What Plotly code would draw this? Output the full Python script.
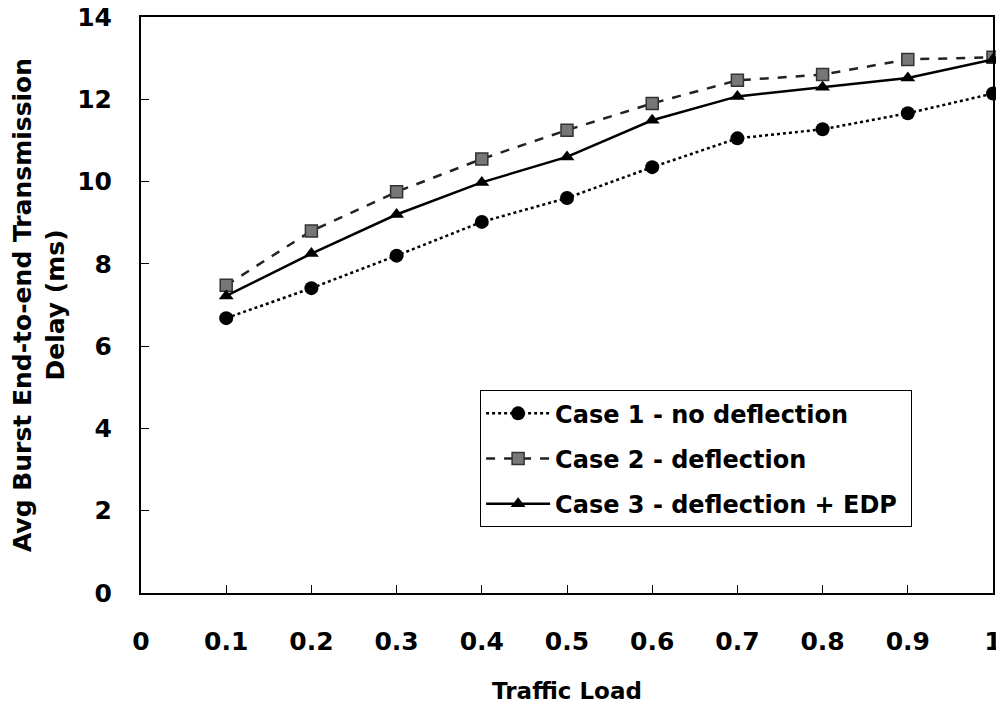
import plotly.graph_objects as go

traffic_load = [0.1, 0.2, 0.3, 0.4, 0.5, 0.6, 0.7, 0.8, 0.9, 1.0]
case1_no_deflection = [6.68, 7.41, 8.2, 9.02, 9.6, 10.35, 11.05, 11.27, 11.66, 12.14]
case2_deflection = [7.48, 8.8, 9.75, 10.55, 11.25, 11.9, 12.46, 12.6, 12.97, 13.02]
case3_deflection_edp = [7.22, 8.25, 9.2, 9.98, 10.6, 11.49, 12.07, 12.29, 12.52, 12.97]

x_ticks = [0, 0.1, 0.2, 0.3, 0.4, 0.5, 0.6, 0.7, 0.8, 0.9, 1.0]
x_tick_labels = ["0", "0.1", "0.2", "0.3", "0.4", "0.5", "0.6", "0.7", "0.8", "0.9", "1"]

font = "DejaVu Sans"

fig = go.Figure()

fig.add_trace(go.Scatter(
    x=traffic_load, y=case1_no_deflection, name="Case 1 - no deflection",
    legendgroup="c1",
    mode="lines+markers",
    line=dict(color="black", width=2.5, dash="dot"),
    marker=dict(symbol="circle", size=14, color="black"),
    cliponaxis=False,
))
fig.add_trace(go.Scatter(
    x=traffic_load, y=case2_deflection, name="Case 2 - deflection",
    legendgroup="c2",
    mode="lines+markers",
    line=dict(color="#222222", width=2.5, dash="dash"),
    marker=dict(symbol="square", size=12, color="#777777",
                line=dict(color="#333333", width=1.5)),
    cliponaxis=False,
))
fig.add_trace(go.Scatter(
    x=traffic_load, y=case3_deflection_edp, name="Case 3 - deflection + EDP&nbsp;",
    legendgroup="c3",
    mode="lines+markers",
    line=dict(color="black", width=2.5),
    marker=dict(symbol="triangle-up", size=13, color="black"),
    cliponaxis=False,
))

# the page body adds an 8px offset, so the figure is a bit smaller than the window
fig.update_layout(
    width=996, height=702,
    paper_bgcolor="white", plot_bgcolor="white",
    margin=dict(l=133, r=11, t=9, b=117),
    font=dict(family=font, size=22, color="black"),
    showlegend=True,
    legend=dict(
        x=0.398, y=0.352, xanchor="left", yanchor="top",
        bordercolor="black", borderwidth=1, bgcolor="white",
        font=dict(family=font, size=24, color="black", weight="bold"),
        itemwidth=64, tracegroupgap=11,
    ),
)

fig.update_xaxes(
    range=[0, 1], tickvals=x_ticks, ticktext=x_tick_labels,
    showline=True, linecolor="black", linewidth=2, mirror=True,
    ticks="inside", ticklen=8, tickcolor="black",
    showgrid=False, zeroline=False, automargin=False,
    tickfont=dict(family=font, size=25, weight="bold"),
    ticklabelstandoff=25, ticklabeloverflow="allow",
    title=dict(text="<b>Traffic Load</b>", font=dict(family=font, size=23), standoff=28),
)
fig.update_yaxes(
    range=[0, 14], dtick=2,
    showline=True, linecolor="black", linewidth=2, mirror=True,
    ticks="inside", ticklen=8, tickcolor="black",
    showgrid=False, zeroline=False, automargin=False,
    tickfont=dict(family=font, size=25, weight="bold"),
    ticklabelstandoff=22, ticklabeloverflow="allow",
    title=dict(text="<b>Avg Burst End-to-end Transmission<br>Delay (ms)</b>",
               font=dict(family=font, size=25), standoff=8),
)

fig.write_html("out.html")
